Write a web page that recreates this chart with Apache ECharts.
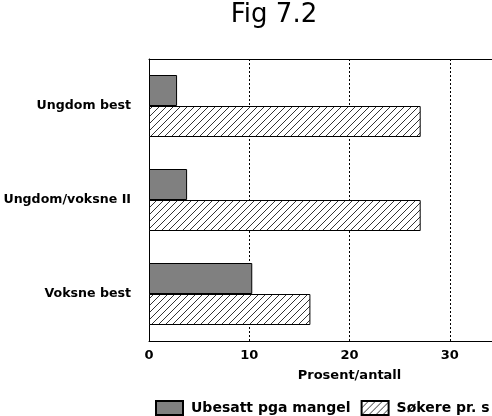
<!DOCTYPE html>
<html>
<head>
<meta charset="utf-8">
<title>Fig 7.2</title>
<script src="https://cdn.jsdelivr.net/npm/echarts@6/dist/echarts.min.js"></script>
<style>
  html, body { margin: 0; padding: 0; background: #fff; }
  #chart { width: 492px; height: 416px; }
</style>
</head>
<body>
<div id="chart"></div>
<script>
// data
const categories = ['Ungdom best', 'Ungdom/voksne II', 'Voksne best']
const ubesatt = [2.8, 3.8, 10.3]
const sokere = [27.1, 27.1, 16.1]
const seriesNames = ['Ubesatt pga mangel', 'Søkere pr. s']
const xTicks = [0, 10, 20, 30, 40]

// hatch fill like the old print pattern
function hatch() {
    const c = document.createElement('canvas')
    c.width = 7
    c.height = 7
    const g = c.getContext('2d')
    g.fillStyle = '#fff'
    g.fillRect(0, 0, 7, 7)
    g.strokeStyle = '#000'
    g.lineWidth = 0.8
    g.beginPath()
    g.moveTo(0, 7); g.lineTo(7, 0)
    g.moveTo(-1, 1); g.lineTo(1, -1)
    g.moveTo(6, 8); g.lineTo(8, 6)
    g.stroke()
    return { image: c, repeat: 'repeat' }
}

const font = 'DejaVu Sans'
const chart = echarts.init(document.getElementById('chart'))

chart.setOption({
    animation: false,
    backgroundColor: '#fff',
    title: {
        text: 'Fig 7.2',
        left: 274,
        textAlign: 'center',
        top: 2,
        padding: 0,
        textStyle: { fontFamily: font, fontSize: 26, fontWeight: 'normal', color: '#000' }
    },
    legend: {
        left: 155,
        top: 400,
        width: 600,
        padding: 0,
        icon: 'rect',
        itemWidth: 27,
        itemHeight: 14,
        itemGap: 10,
        textStyle: { fontFamily: font, fontSize: 14, fontWeight: 'bold', color: '#000', padding: [0, 0, 0, 3] },
        data: seriesNames
    },
    grid: { left: 149, top: 59, width: 401, height: 282, outerBoundsMode: 'none', containLabel: false },
    xAxis: [
        {
            type: 'value',
            min: xTicks[0],
            max: xTicks[xTicks.length - 1],
            interval: 10,
            name: 'Prosent/antall',
            nameLocation: 'middle',
            nameGap: 28,
            nameTextStyle: { fontFamily: font, fontSize: 13, fontWeight: 'bold', color: '#000' },
            axisLine: { show: true, lineStyle: { color: '#000', width: 1 } },
            axisTick: { show: false },
            axisLabel: { margin: 8, fontFamily: font, fontSize: 13, fontWeight: 'bold', color: '#000' },
            splitLine: { show: true, lineStyle: { color: '#000', width: 1, type: [2, 2] } }
        },
        {
            type: 'value',
            position: 'top',
            min: 0,
            max: 40,
            axisLine: { show: true, lineStyle: { color: '#000', width: 1 } },
            axisTick: { show: false },
            axisLabel: { show: false },
            splitLine: { show: false }
        }
    ],
    yAxis: {
        type: 'category',
        inverse: true,
        data: categories,
        axisLine: { show: true, lineStyle: { color: '#000', width: 1 } },
        axisTick: { show: false },
        axisLabel: { margin: 18, fontFamily: font, fontSize: 12.6, fontWeight: 'bold', color: '#000' }
    },
    series: [
        {
            name: seriesNames[0],
            type: 'bar',
            data: ubesatt,
            barWidth: 31,
            barGap: '0%',
            itemStyle: { color: '#808080', borderColor: '#000', borderWidth: 1 }
        },
        {
            name: seriesNames[1],
            type: 'bar',
            data: sokere,
            barWidth: 31,
            barGap: '0%',
            itemStyle: { color: hatch(), borderColor: '#000', borderWidth: 1 }
        }
    ]
})
</script>
</body>
</html>
